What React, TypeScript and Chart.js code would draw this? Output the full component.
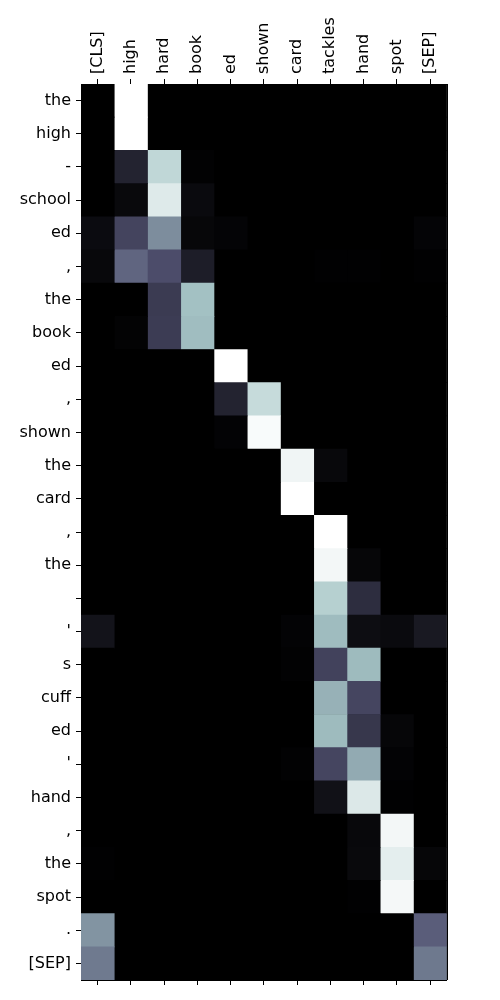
import React, { useEffect, useRef } from "react";
import { Chart, registerables } from "chart.js";

Chart.register(...registerables);

const colLabels = ["[CLS]", "high", "hard", "book", "ed", "shown", "card", "tackles", "hand", "spot", "[SEP]"];
const rowLabels = [
  "the", "high", "-", "school", "ed", ",", "the", "book", "ed", ",", "shown", "the", "card", ",",
  "the", "", "'", "s", "cuff", "ed", "'", "hand", ",", "the", "spot", ".", "[SEP]",
];

// attention weights, one array per column (27 rows each)
const valsCLS = [0, 0, 0, 0, 0.05, 0.035, 0, 0, 0, 0, 0, 0, 0, 0, 0, 0, 0.084, 0, 0, 0, 0, 0, 0, 0.005, 0, 0.583, 0.497];
const valsHigh = [1, 1, 0.155, 0.04, 0.303, 0.43, 0, 0.012, 0, 0, 0, 0, 0, 0, 0, 0, 0, 0, 0, 0, 0, 0, 0, 0, 0, 0, 0];
const valsHard = [0, 0, 0.82, 0.906, 0.56, 0.34, 0.264, 0.27, 0, 0, 0, 0, 0, 0, 0, 0, 0, 0, 0, 0, 0, 0, 0, 0, 0, 0, 0];
const valsBook = [0, 0, 0.01, 0.045, 0.03, 0.13, 0.73, 0.717, 0, 0, 0, 0, 0, 0, 0, 0, 0, 0, 0, 0, 0, 0, 0, 0, 0, 0, 0];
const valsEd = [0, 0, 0, 0, 0.02, 0, 0, 0, 1, 0.155, 0.015, 0, 0, 0, 0, 0, 0, 0, 0, 0, 0, 0, 0, 0, 0, 0, 0];
const valsShown = [0, 0, 0, 0, 0, 0, 0, 0, 0, 0.837, 0.98, 0, 0, 0, 0, 0, 0, 0, 0, 0, 0, 0, 0, 0, 0, 0, 0];
const valsCard = [0, 0, 0, 0, 0, 0, 0, 0, 0, 0, 0, 0.957, 1, 0, 0, 0, 0.015, 0.01, 0, 0, 0.01, 0, 0, 0, 0, 0, 0];
const valsTackles = [0, 0, 0, 0, 0, 0.005, 0, 0, 0, 0, 0, 0.035, 0, 1, 0.965, 0.79, 0.713, 0.296, 0.677, 0.71, 0.31, 0.074, 0, 0, 0, 0, 0];
const valsHand = [0, 0, 0, 0, 0, 0.005, 0, 0, 0, 0, 0, 0, 0, 0, 0.025, 0.203, 0.058, 0.71, 0.309, 0.245, 0.654, 0.899, 0.035, 0.04, 0.005, 0, 0];
const valsSpot = [0, 0, 0, 0, 0, 0, 0, 0, 0, 0, 0, 0, 0, 0, 0, 0, 0.045, 0, 0, 0.025, 0.015, 0.005, 0.965, 0.922, 0.97, 0, 0];
const valsSEP = [0, 0, 0, 0, 0.02, 0.005, 0, 0, 0, 0, 0, 0, 0, 0, 0, 0, 0.11, 0, 0, 0, 0, 0, 0, 0.025, 0, 0.403, 0.493];

const columns = [valsCLS, valsHigh, valsHard, valsBook, valsEd, valsShown, valsCard, valsTackles, valsHand, valsSpot, valsSEP];

function interp(v: number, pts: number[][]): number {
  for (let i = 1; i < pts.length; i++) {
    if (v <= pts[i][0]) {
      const [x0, y0] = pts[i - 1];
      const [x1, y1] = pts[i];
      return y0 + ((v - x0) / (x1 - x0)) * (y1 - y0);
    }
  }
  return pts[pts.length - 1][1];
}

function bone(v: number): string {
  const t = Math.max(0, Math.min(1, v));
  const r = interp(t, [[0, 0], [0.746032, 0.652778], [1, 1]]);
  const g = interp(t, [[0, 0], [0.365079, 0.319444], [0.746032, 0.777778], [1, 1]]);
  const b = interp(t, [[0, 0], [0.365079, 0.444444], [1, 1]]);
  return `rgb(${Math.round(r * 255)},${Math.round(g * 255)},${Math.round(b * 255)})`;
}

const FONT = { family: "'DejaVu Sans', sans-serif", size: 16 };

export default function App() {
  const ref = useRef<HTMLCanvasElement | null>(null);

  useEffect(() => {
    if (!ref.current) return;
    const halfTicks = (scale: any) => {
      scale.ticks = colLabels.map((_, i) => ({ value: i + 0.5 }));
    };
    const framePlugin = {
      id: "frame",
      beforeDatasetsDraw(chart: any) {
        const { ctx, chartArea } = chart;
        ctx.save();
        ctx.fillStyle = "#000";
        ctx.fillRect(chartArea.left, chartArea.top, chartArea.right - chartArea.left, chartArea.bottom - chartArea.top);
        ctx.restore();
      },
      afterDatasetsDraw(chart: any) {
        const { ctx, chartArea } = chart;
        ctx.save();
        ctx.strokeStyle = "#000";
        ctx.lineWidth = 1;
        ctx.beginPath();
        ctx.moveTo(Math.round(chartArea.right) + 0.5, chartArea.top);
        ctx.lineTo(Math.round(chartArea.right) + 0.5, chartArea.bottom);
        ctx.stroke();
        ctx.restore();
      },
    };
    const chart = new Chart(ref.current, {
      type: "bar",
      data: {
        labels: rowLabels,
        datasets: columns.map((vals, i) => ({
          label: colLabels[i],
          data: rowLabels.map(() => 1),
          backgroundColor: vals.map(bone),
          borderWidth: 0,
          barPercentage: 1,
          categoryPercentage: 1,
          stack: "s",
        })),
      },
      options: {
        indexAxis: "y",
        responsive: false,
        animation: false,
        layout: { padding: { left: 0, right: 53.3, top: 0, bottom: 0 } },
        plugins: { legend: { display: false }, tooltip: { enabled: false } },
        scales: {
          x: {
            type: "linear",
            position: "top",
            stacked: true,
            min: 0,
            max: 11,
            afterBuildTicks: halfTicks,
            afterFit: (s: any) => {
              s.height = 84;
            },
            ticks: {
              callback: (_v: any, i: number) => colLabels[i],
              minRotation: 90,
              maxRotation: 90,
              autoSkip: false,
              color: "#000",
              font: FONT,
              padding: 5,
              labelOffset: 19,
            },
            grid: { drawOnChartArea: false, drawTicks: true, tickLength: 5, color: "#000", lineWidth: 1 },
            border: { display: true, color: "#000", width: 1 },
          },
          x2: {
            type: "linear",
            position: "bottom",
            min: 0,
            max: 11,
            afterBuildTicks: halfTicks,
            afterFit: (s: any) => {
              s.height = 20;
            },
            ticks: { display: false },
            grid: { drawOnChartArea: false, drawTicks: true, tickLength: 5, color: "#000", lineWidth: 1 },
            border: { display: true, color: "#000", width: 1 },
          },
          y: {
            type: "category",
            position: "left",
            stacked: true,
            offset: true,
            afterFit: (s: any) => {
              s.width = 81;
            },
            ticks: { color: "#000", font: FONT, padding: 5, autoSkip: false },
            grid: { offset: false, drawOnChartArea: false, drawTicks: true, tickLength: 5, color: "#000", lineWidth: 1 },
            border: { display: true, color: "#000", width: 1 },
          },
        },
      } as any,
      plugins: [framePlugin],
    });
    return () => chart.destroy();
  }, []);

  return (
    <div style={{ position: "absolute", left: 0, top: 0, width: 500, height: 1000, background: "#fff" }}>
      <canvas ref={ref} width={500} height={1000} />
    </div>
  );
}
